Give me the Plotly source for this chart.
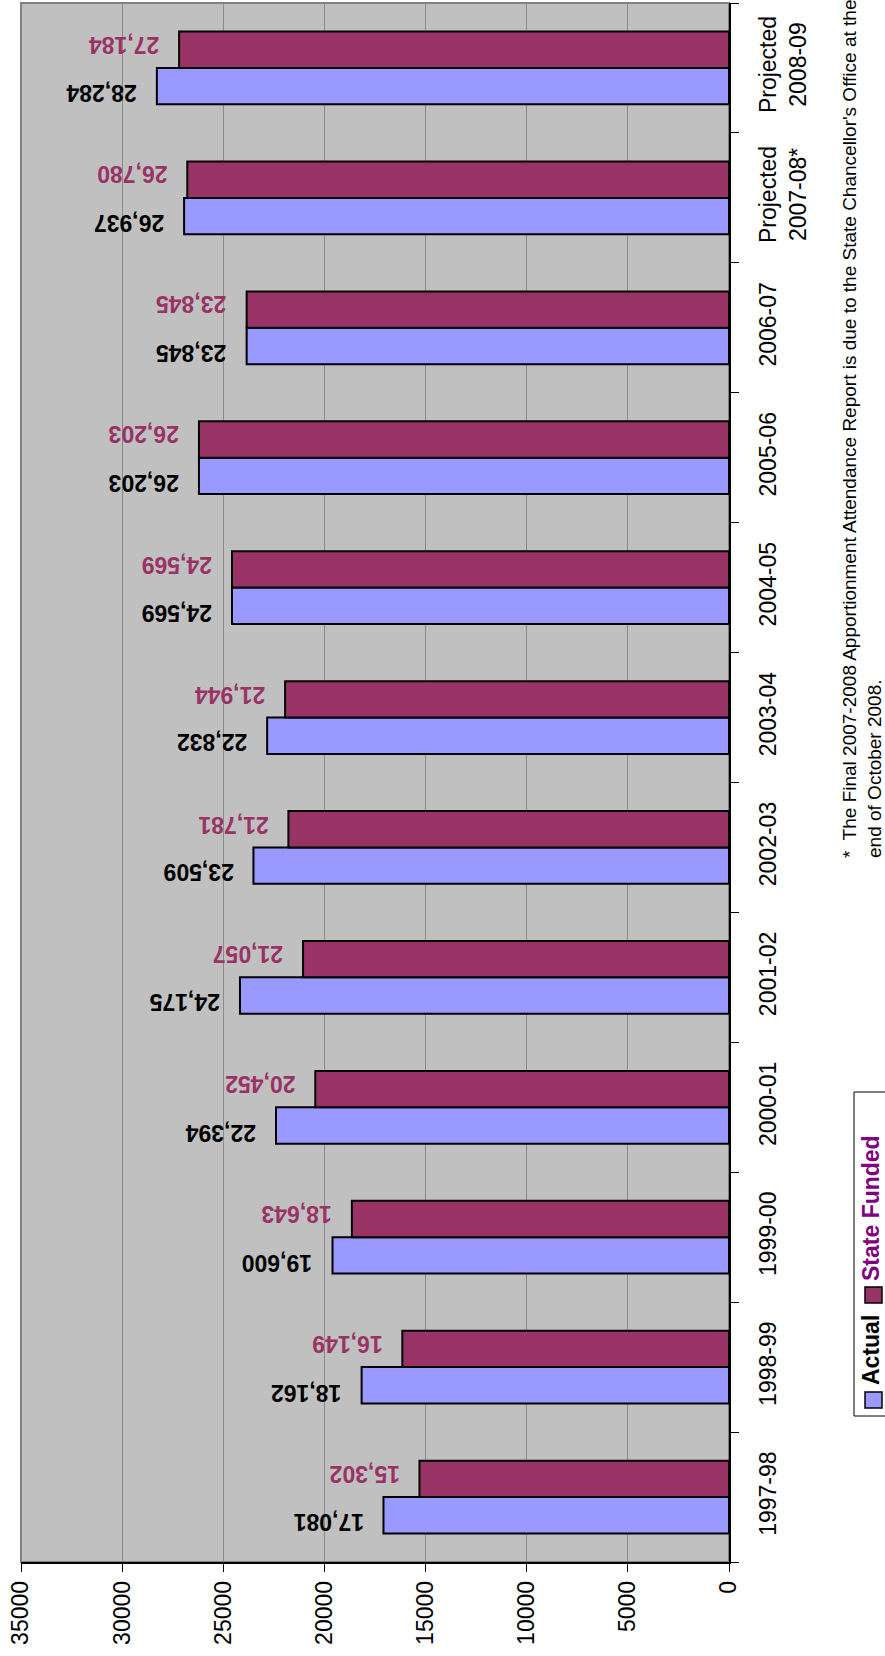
import plotly.graph_objects as go

categories = ["1997-98", "1998-99", "1999-00", "2000-01", "2001-02", "2002-03",
              "2003-04", "2004-05", "2005-06", "2006-07",
              "Projected<br>2007-08*", "Projected<br>2008-09"]
actual = [17081, 18162, 19600, 22394, 24175, 23509, 22832, 24569, 26203, 23845, 26937, 28284]
state_funded = [15302, 16149, 18643, 20452, 21057, 21781, 21944, 24569, 26203, 23845, 26780, 27184]
value_ticks = [0, 5000, 10000, 15000, 20000, 25000, 30000, 35000]

W, H = 885, 1656
L, R, T, B = 21, 729, 3, 1562
FONT = "Liberation Sans, Arial, sans-serif"


def px(x):
    return (x - L) / (R - L)


def py(y):
    return (B - y) / (B - T)


fig = go.Figure()
fig.add_trace(go.Bar(y=categories, x=actual, orientation="h", name="Actual",
                     marker=dict(color="#9999FF", line=dict(color="black", width=2)),
                     showlegend=False, hoverinfo="x"))
fig.add_trace(go.Bar(y=categories, x=state_funded, orientation="h", name="State Funded",
                     marker=dict(color="#993366", line=dict(color="black", width=2)),
                     showlegend=False, hoverinfo="x"))

annotations = []
off = 0.14
for i, (a, s) in enumerate(zip(actual, state_funded)):
    annotations.append(dict(x=a, y=i - off, xref="x", yref="y", text=f"{a:,}",
                            showarrow=False, textangle=180, xanchor="right",
                            xshift=-18, yshift=-7,
                            font=dict(family=FONT, size=23, color="black", weight="bold")))
    annotations.append(dict(x=s, y=i + off, xref="x", yref="y", text=f"{s:,}",
                            showarrow=False, textangle=180, xanchor="right",
                            xshift=-18, yshift=5,
                            font=dict(family=FONT, size=23, color="#993366", weight="bold")))

# legend (rotated, built from shapes + text)
shapes = [
    dict(type="rect", xref="paper", yref="paper", x0=0, x1=1, y0=0, y1=1,
         line=dict(color="#808080", width=2), layer="below"),
    dict(type="rect", xref="paper", yref="paper", x0=px(854), x1=px(900),
         y0=py(1416), y1=py(1092), line=dict(color="black", width=1), fillcolor="white"),
    dict(type="rect", xref="paper", yref="paper", x0=px(865), x1=px(882),
         y0=py(1408), y1=py(1392), line=dict(color="black", width=1.5), fillcolor="#9999FF"),
    dict(type="rect", xref="paper", yref="paper", x0=px(865), x1=px(882),
         y0=py(1303), y1=py(1287), line=dict(color="black", width=1.5), fillcolor="#993366"),
]
annotations.append(dict(x=px(871), y=py(1386), xref="paper", yref="paper", text="Actual",
                        showarrow=False, textangle=-90, xanchor="center", yanchor="bottom",
                        borderpad=0,
                        font=dict(family=FONT, size=23, color="black", weight="bold")))
annotations.append(dict(x=px(871), y=py(1282), xref="paper", yref="paper", text="State Funded",
                        showarrow=False, textangle=-90, xanchor="center", yanchor="bottom",
                        borderpad=0,
                        font=dict(family=FONT, size=23, color="#800080", weight="bold")))
annotations.append(dict(x=px(837), y=py(860), xref="paper", yref="paper",
                        text="*  The Final 2007-2008 Apportionment Attendance Report is due to the State Chancellor's Office at the<br>end of October 2008.",
                        showarrow=False, textangle=-90, xanchor="left", yanchor="bottom",
                        align="left",
                        font=dict(family=FONT, size=19, color="black")))

fig.update_layout(
    width=W, height=H,
    margin=dict(l=L, r=W - R, t=T, b=H - B, pad=0),
    paper_bgcolor="white", plot_bgcolor="#C0C0C0",
    barmode="group", bargap=0.44, bargroupgap=0,
    font=dict(family=FONT, size=23, color="black"),
    shapes=shapes, annotations=annotations,
    xaxis=dict(range=[35000, 0], tickvals=value_ticks, ticktext=[str(v) for v in value_ticks],
               tickangle=-90, ticks="outside", ticklen=8, tickcolor="black", tickwidth=1,
               showline=True, linecolor="black", linewidth=1.5,
               showgrid=True, gridcolor="#8a8a8a", gridwidth=1, zeroline=False,
               tickfont=dict(family=FONT, size=23, color="black")),
    yaxis=dict(type="category", categoryorder="array", categoryarray=categories,
               side="right", tickangle=-90, ticks="outside", ticklen=8, tickcolor="black",
               tickson="boundaries", showline=True, linecolor="black", linewidth=1.5,
               showgrid=False, range=[-0.5, len(categories) - 0.5],
               ticklabelstandoff=18,
               tickfont=dict(family=FONT, size=23, color="black")),
)

fig.write_html("out.html",
               config={"displayModeBar": False},
               post_script="document.body.style.margin='0';document.body.style.overflow='hidden';")
